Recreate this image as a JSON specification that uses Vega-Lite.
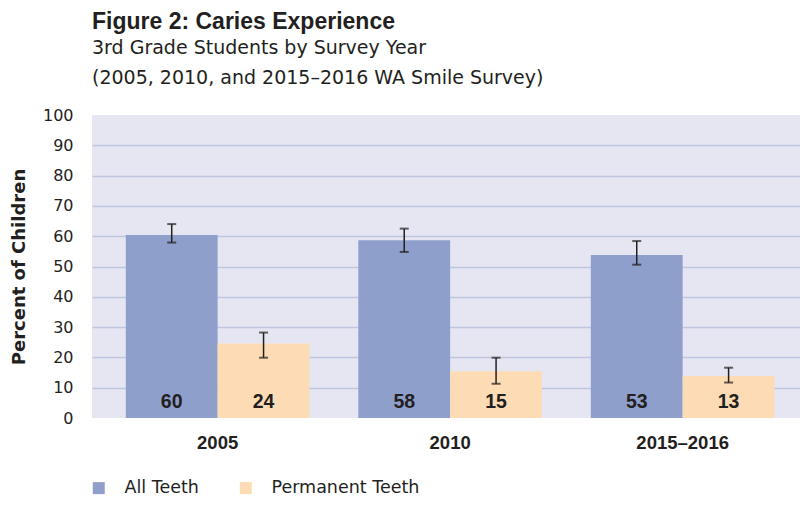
{
  "$schema": "https://vega.github.io/schema/vega-lite/v6.json",
  "width": 708,
  "height": 303,
  "autosize": {"type": "none"},
  "padding": {"left": 92, "top": 115, "right": 0, "bottom": 88},
  "background": "white",
  "title": {
    "text": "Figure 2: Caries Experience",
    "subtitle": ["3rd Grade Students by Survey Year", "(2005, 2010, and 2015–2016 WA Smile Survey)"],
    "anchor": "start",
    "frame": "group",
    "font": "Liberation Sans",
    "fontSize": 23,
    "fontWeight": "bold",
    "color": "#231f20",
    "subtitleFont": "DejaVu Sans",
    "subtitleFontSize": 19,
    "subtitleColor": "#231f20",
    "subtitleLineHeight": 30,
    "subtitlePadding": 5,
    "offset": 19
  },
  "data": {
    "values": [
      {"year": "2005", "series": "All Teeth", "value": 60.4, "lo": 57.9, "hi": 64.0, "label": "60"},
      {"year": "2005", "series": "Permanent Teeth", "value": 24.6, "lo": 19.9, "hi": 28.2, "label": "24"},
      {"year": "2010", "series": "All Teeth", "value": 58.7, "lo": 54.8, "hi": 62.5, "label": "58"},
      {"year": "2010", "series": "Permanent Teeth", "value": 15.4, "lo": 11.3, "hi": 19.9, "label": "15"},
      {"year": "2015–2016", "series": "All Teeth", "value": 53.8, "lo": 50.6, "hi": 58.4, "label": "53"},
      {"year": "2015–2016", "series": "Permanent Teeth", "value": 13.9, "lo": 11.7, "hi": 16.6, "label": "13"}
    ]
  },
  "encoding": {
    "x": {
      "field": "year",
      "type": "nominal",
      "sort": null,
      "scale": {"paddingInner": 0.21, "paddingOuter": 0.1275, "align": 0.57},
      "axis": {
        "title": null,
        "labelAngle": 0,
        "domain": false,
        "ticks": false,
        "labelFont": "Liberation Sans",
        "labelFontSize": 18.5,
        "labelFontWeight": "bold",
        "labelColor": "#231f20",
        "labelPadding": 15
      }
    },
    "xOffset": {
      "field": "series",
      "type": "nominal",
      "sort": ["All Teeth", "Permanent Teeth"],
      "scale": {"paddingInner": 0, "paddingOuter": 0}
    }
  },
  "layer": [
    {
      "mark": {"type": "bar"},
      "encoding": {
        "y": {
          "field": "value",
          "type": "quantitative",
          "title": "Percent of Children",
          "scale": {"domain": [0, 100], "nice": false},
          "axis": {
            "title": "Percent of Children",
            "values": [0, 10, 20, 30, 40, 50, 60, 70, 80, 90, 100],
            "labelOverlap": false,
            "domain": false,
            "ticks": false,
            "labelFont": "DejaVu Sans",
            "labelFontSize": 16,
            "labelColor": "#231f20",
            "labelPadding": 19,
            "titleFont": "DejaVu Sans",
            "titleFontSize": 18,
            "titleFontWeight": "bold",
            "titleColor": "#231f20",
            "titlePadding": 14,
            "grid": true,
            "gridWidth": 1.5,
            "gridColor": {"condition": {"test": "datum.value == 0 || datum.value == 100", "value": "transparent"}, "value": "#c0c6e0"}
          }
        },
        "color": {
          "field": "series",
          "type": "nominal",
          "scale": {"domain": ["All Teeth", "Permanent Teeth"], "range": ["#8f9fcb", "#fddcb5"]},
          "legend": {
            "title": null,
            "orient": "none",
            "direction": "horizontal",
            "legendX": -2,
            "legendY": 364,
            "symbolType": "square",
            "symbolSize": 144,
            "symbolStrokeWidth": 0,
            "symbolOpacity": 1,
            "labelFont": "DejaVu Sans",
            "labelFontSize": 17.5,
            "labelColor": "#231f20",
            "labelOffset": 17,
            "columnPadding": 38
          }
        }
      }
    },
    {
      "mark": {"type": "rule", "color": "#231f20", "strokeWidth": 1.5},
      "encoding": {
        "y": {
          "field": "lo",
          "type": "quantitative",
          "title": "Percent of Children",
          "axis": {
            "title": "Percent of Children",
            "values": [0, 10, 20, 30, 40, 50, 60, 70, 80, 90, 100],
            "labelOverlap": false,
            "domain": false,
            "ticks": false,
            "labelFont": "DejaVu Sans",
            "labelFontSize": 16,
            "labelColor": "#231f20",
            "labelPadding": 19,
            "titleFont": "DejaVu Sans",
            "titleFontSize": 18,
            "titleFontWeight": "bold",
            "titleColor": "#231f20",
            "titlePadding": 14,
            "grid": true,
            "gridWidth": 1.5,
            "gridColor": {"condition": {"test": "datum.value == 0 || datum.value == 100", "value": "transparent"}, "value": "#c0c6e0"}
          }
        },
        "y2": {"field": "hi"}
      }
    },
    {
      "mark": {"type": "tick", "orient": "horizontal", "color": "#231f20", "size": 9, "thickness": 2},
      "encoding": {
        "y": {
          "field": "lo",
          "type": "quantitative",
          "title": "Percent of Children",
          "axis": {
            "title": "Percent of Children",
            "values": [0, 10, 20, 30, 40, 50, 60, 70, 80, 90, 100],
            "labelOverlap": false,
            "domain": false,
            "ticks": false,
            "labelFont": "DejaVu Sans",
            "labelFontSize": 16,
            "labelColor": "#231f20",
            "labelPadding": 19,
            "titleFont": "DejaVu Sans",
            "titleFontSize": 18,
            "titleFontWeight": "bold",
            "titleColor": "#231f20",
            "titlePadding": 14,
            "grid": true,
            "gridWidth": 1.5,
            "gridColor": {"condition": {"test": "datum.value == 0 || datum.value == 100", "value": "transparent"}, "value": "#c0c6e0"}
          }
        }
      }
    },
    {
      "mark": {"type": "tick", "orient": "horizontal", "color": "#231f20", "size": 9, "thickness": 2},
      "encoding": {
        "y": {
          "field": "hi",
          "type": "quantitative",
          "title": "Percent of Children",
          "axis": {
            "title": "Percent of Children",
            "values": [0, 10, 20, 30, 40, 50, 60, 70, 80, 90, 100],
            "labelOverlap": false,
            "domain": false,
            "ticks": false,
            "labelFont": "DejaVu Sans",
            "labelFontSize": 16,
            "labelColor": "#231f20",
            "labelPadding": 19,
            "titleFont": "DejaVu Sans",
            "titleFontSize": 18,
            "titleFontWeight": "bold",
            "titleColor": "#231f20",
            "titlePadding": 14,
            "grid": true,
            "gridWidth": 1.5,
            "gridColor": {"condition": {"test": "datum.value == 0 || datum.value == 100", "value": "transparent"}, "value": "#c0c6e0"}
          }
        }
      }
    },
    {
      "mark": {"type": "text", "font": "Liberation Sans", "fontSize": 19.5, "fontWeight": "bold", "color": "#231f20", "dy": -16, "baseline": "middle"},
      "encoding": {
        "y": {
          "datum": 0,
          "type": "quantitative",
          "title": "Percent of Children",
          "axis": {
            "title": "Percent of Children",
            "values": [0, 10, 20, 30, 40, 50, 60, 70, 80, 90, 100],
            "labelOverlap": false,
            "domain": false,
            "ticks": false,
            "labelFont": "DejaVu Sans",
            "labelFontSize": 16,
            "labelColor": "#231f20",
            "labelPadding": 19,
            "titleFont": "DejaVu Sans",
            "titleFontSize": 18,
            "titleFontWeight": "bold",
            "titleColor": "#231f20",
            "titlePadding": 14,
            "grid": true,
            "gridWidth": 1.5,
            "gridColor": {"condition": {"test": "datum.value == 0 || datum.value == 100", "value": "transparent"}, "value": "#c0c6e0"}
          }
        },
        "text": {"field": "label"}
      }
    }
  ],
  "config": {
    "view": {"fill": "#e6e6f2", "stroke": null}
  }
}
